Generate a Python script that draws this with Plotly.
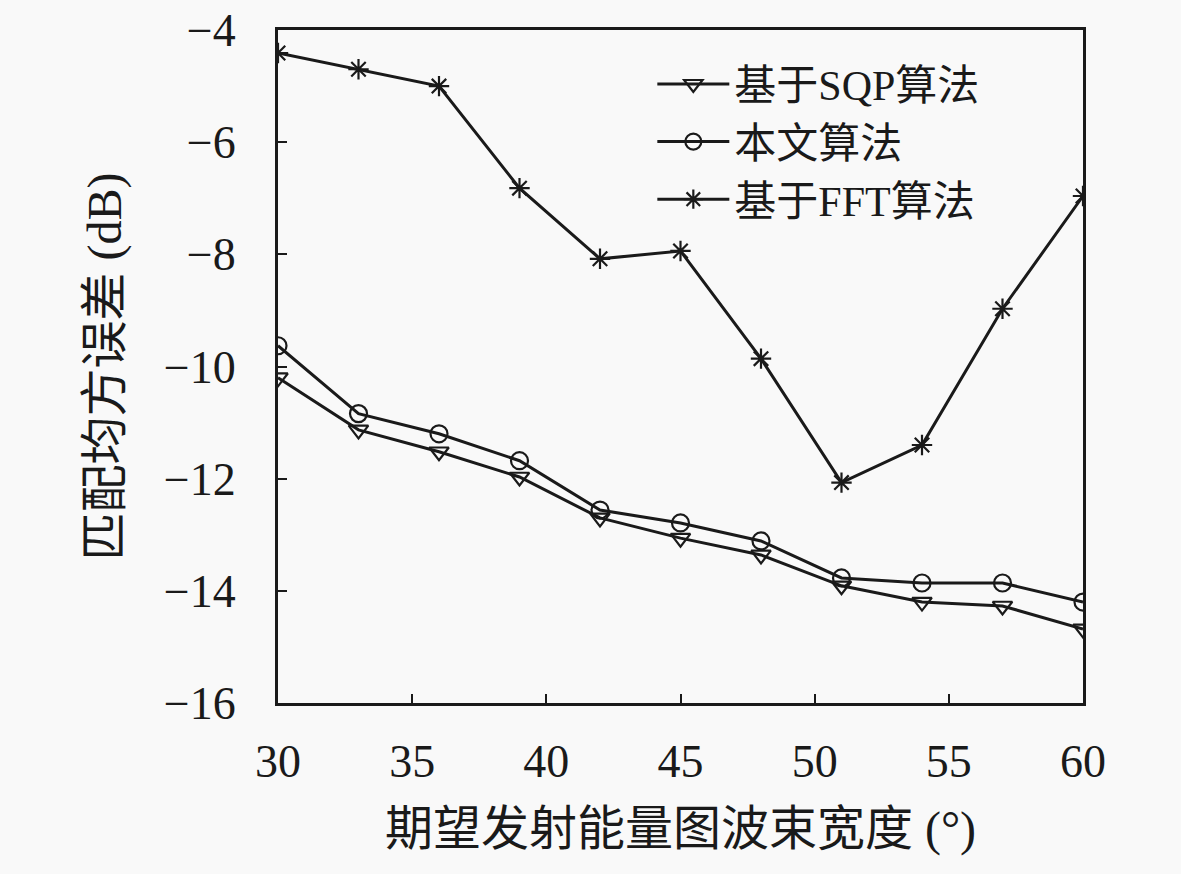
import plotly.graph_objects as go

# beam width (deg)
beam_width = [30, 33, 36, 39, 42, 45, 48, 51, 54, 57, 60]

# matching MSE (dB)
mse_sqp = [-10.20, -11.13, -11.52, -11.97, -12.70, -13.06, -13.36, -13.91, -14.20, -14.27, -14.68]
mse_ours = [-9.63, -10.84, -11.20, -11.68, -12.56, -12.79, -13.11, -13.77, -13.86, -13.86, -14.20]
mse_fft = [-4.41, -4.70, -5.00, -6.82, -8.08, -7.94, -9.86, -12.07, -11.40, -8.97, -6.96]

names = ["基于SQP算法", "本文算法", "基于FFT算法"]
symbols = ["triangle-down-open", "circle-open", "asterisk-open"]

FONT = "Liberation Serif, Noto Sans CJK SC, serif"
TICKFONT = "Liberation Serif, serif"
INK = "#1a1a1a"
BG = "#f9f9f9"

fig = go.Figure()
for name, ys, sym in zip(names, [mse_sqp, mse_ours, mse_fft], symbols):
    fig.add_trace(go.Scatter(
        x=beam_width, y=ys, name=name, mode="lines+markers",
        line=dict(color=INK, width=3),
        marker=dict(symbol=sym, size=17, color=INK, line=dict(color=INK, width=2.2)),
    ))

axis_common = dict(
    showline=True, linecolor=INK, linewidth=3, mirror=True,
    ticks="inside", ticklen=9, tickcolor=INK, tickwidth=2,
    showgrid=False, zeroline=False, automargin=False,
    tickfont=dict(size=46, family=TICKFONT, color=INK),
)

fig.update_xaxes(
    range=[30, 60], tickvals=[30, 35, 40, 45, 50, 55, 60],
    ticklabelstandoff=16,
    title=dict(text="期望发射能量图波束宽度 (°)", font=dict(size=48, family=FONT, color=INK), standoff=26),
    **axis_common,
)
fig.update_yaxes(
    range=[-16, -4], tickvals=[-16, -14, -12, -10, -8, -6, -4],
    ticklabelstandoff=30,
    title=dict(text="匹配均方误差 (dB)", font=dict(size=48, family=FONT, color=INK), standoff=28),
    **axis_common,
)

fig.update_layout(
    width=1181, height=874,
    margin=dict(l=278, r=98, t=30, b=171),
    paper_bgcolor=BG, plot_bgcolor=BG,
    font=dict(family=FONT, color=INK),
    showlegend=True,
    legend=dict(
        x=0.465, y=0.97, xanchor="left", yanchor="top",
        bgcolor="rgba(0,0,0,0)", font=dict(size=42, family=FONT, color=INK),
        tracegroupgap=0, itemwidth=72,
    ),
)

# drop the default page margin so the figure sits at the window's corner
fig.write_html("out.html", config={"displayModeBar": False},
               post_script="document.body.style.margin='0';")
